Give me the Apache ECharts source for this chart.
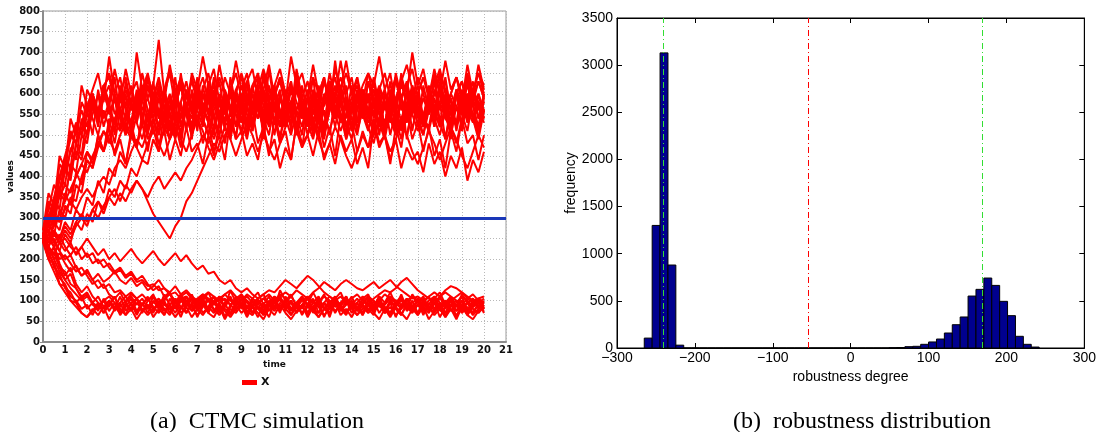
<!DOCTYPE html>
<html>
<head>
<meta charset="utf-8">
<script src="https://cdn.jsdelivr.net/npm/echarts@6/dist/echarts.min.js"></script>
<style>
  html, body { margin: 0; padding: 0; background: #fff; }
  #main { width: 1099px; height: 432px; }
</style>
</head>
<body>
<div id="main"></div>
<script>
// time grid of the simulated runs
const times = [
  0, 0.25, 0.5, 0.75, 1, 1.25, 1.5, 1.75, 2, 2.25,
  2.5, 2.75, 3, 3.25, 3.5, 3.75, 4, 4.25, 4.5, 4.75,
  5, 5.25, 5.5, 5.75, 6, 6.25, 6.5, 6.75, 7, 7.25,
  7.5, 7.75, 8, 8.25, 8.5, 8.75, 9, 9.25, 9.5, 9.75,
  10, 10.25, 10.5, 10.75, 11, 11.25, 11.5, 11.75, 12, 12.25,
  12.5, 12.75, 13, 13.25, 13.5, 13.75, 14, 14.25, 14.5, 14.75,
  15, 15.25, 15.5, 15.75, 16, 16.25, 16.5, 16.75, 17, 17.25,
  17.5, 17.75, 18, 18.25, 18.5, 18.75, 19, 19.25, 19.5, 19.75,
  20
]

// runs that end in the high state
const upperRuns = [
  [250, 330, 300, 400, 380, 470, 440, 540, 500, 600,
   530, 620, 550, 590, 510, 630, 560, 600, 520, 640,
   570, 610, 500, 590, 540, 650, 560, 600, 510, 620,
   550, 640, 530, 590, 490, 610, 560, 630, 520, 600,
   540, 660, 570, 610, 520, 580, 500, 620, 550, 640,
   530, 600, 560, 680, 580, 620, 510, 590, 540, 630,
   570, 610, 500, 600, 550, 650, 560, 590, 520, 620,
   560, 640, 530, 600, 490, 610, 550, 630, 540, 600,
   560],
  [260, 290, 350, 320, 420, 390, 480, 450, 560, 500,
   610, 540, 580, 500, 600, 530, 620, 560, 590, 510,
   630, 540, 600, 520, 580, 490, 610, 550, 640, 570,
   600, 510, 590, 530, 620, 560, 590, 500, 580, 540,
   610, 530, 570, 480, 600, 550, 630, 540, 590, 510,
   580, 520, 620, 560, 600, 490, 570, 530, 610, 550,
   590, 500, 580, 540, 640, 560, 600, 510, 590, 530,
   620, 550, 580, 490, 570, 530, 610, 540, 580, 500,
   590],
  [240, 300, 280, 360, 340, 430, 410, 500, 480, 570,
   540, 620, 580, 660, 600, 640, 570, 700, 610, 650,
   590, 640, 580, 670, 600, 630, 560, 650, 610, 690,
   620, 660, 580, 640, 600, 680, 610, 650, 570, 630,
   610, 670, 590, 640, 580, 690, 620, 650, 590, 670,
   600, 640, 570, 660, 610, 680, 600, 640, 580, 650,
   620, 690, 610, 650, 570, 640, 600, 700, 620, 660,
   590, 650, 600, 680, 610, 640, 580, 670, 600, 650,
   620],
  [250, 240, 290, 270, 330, 310, 380, 360, 440, 420,
   500, 460, 540, 480, 560, 500, 530, 470, 550, 490,
   520, 460, 560, 490, 530, 470, 580, 510, 550, 480,
   530, 460, 500, 440, 540, 490, 600, 520, 560, 480,
   520, 450, 540, 480, 510, 440, 530, 470, 560, 500,
   540, 470, 520, 450, 550, 490, 530, 460, 510, 470,
   540, 480, 500, 430, 520, 470, 560, 490, 530, 460,
   520, 450, 490, 420, 510, 460, 540, 480, 500, 440,
   500],
  [270, 360, 330, 450, 420, 540, 500, 620, 570, 610,
   650, 580, 690, 600, 640, 570, 610, 550, 650, 590,
   620, 730, 600, 650, 570, 620, 560, 640, 590, 550,
   630, 580, 670, 600, 560, 610, 640, 570, 620, 560,
   650, 590, 620, 540, 600, 560, 660, 590, 630, 570,
   610, 570, 650, 590, 680, 600, 640, 560, 610, 580,
   640, 570, 610, 550, 650, 590, 620, 560, 600, 640,
   590, 660, 600, 630, 560, 610, 580, 650, 590, 670,
   610],
  [240, 260, 310, 290, 360, 330, 410, 380, 460, 430,
   500, 460, 520, 450, 490, 430, 510, 470, 530, 460,
   540, 480, 510, 440, 490, 450, 520, 460, 480, 430,
   500, 450, 530, 480, 560, 490, 510, 450, 480, 440,
   520, 460, 490, 420, 470, 440, 530, 480, 500, 450,
   510, 440, 480, 430, 500, 460, 490, 430, 470, 420,
   530, 470, 500, 440, 490, 420, 470, 440, 460, 410,
   480, 430, 460, 400, 450, 420, 470, 390, 440, 410,
   460],
  [250, 230, 270, 250, 290, 270, 320, 300, 350, 330,
   390, 360, 420, 400, 460, 430, 500, 470, 540, 510,
   590, 540, 570, 510, 600, 540, 580, 520, 610, 560,
   540, 600, 520, 580, 510, 590, 550, 630, 560, 600,
   530, 570, 500, 590, 540, 610, 560, 600, 520, 580,
   510, 560, 500, 590, 540, 580, 520, 600, 550, 590,
   610, 550, 580, 500, 560, 520, 610, 550, 590, 530,
   600, 560, 620, 540, 590, 510, 580, 540, 600, 560,
   580],
  [250, 270, 240, 220, 260, 240, 290, 270, 310, 290,
   340, 320, 370, 350, 390, 370, 420, 400, 440, 430,
   490, 460, 520, 490, 540, 510, 560, 520, 580, 600,
   550, 610, 540, 590, 500, 570, 530, 600, 550, 580,
   510, 590, 530, 600, 540, 500, 560, 520, 590, 550,
   620, 570, 610, 540, 620, 560, 580, 510, 560, 600,
   540, 590, 520, 610, 560, 630, 570, 600, 540, 590,
   550, 610, 560, 590, 530, 610, 570, 600, 540, 580,
   560],
  [250, 230, 210, 240, 270, 250, 280, 300, 280, 320,
   340, 310, 350, 370, 340, 380, 360, 390, 370, 340,
   310, 290, 270, 250, 280, 300, 340, 360, 390, 420,
   450, 480, 460, 500, 530, 500, 560, 520, 580, 540,
   590, 540, 600, 560, 520, 580, 610, 560, 530, 580,
   560, 500, 560, 600, 540, 510, 570, 600, 550, 510,
   580, 530, 490, 560, 590, 530, 500, 560, 600, 540,
   510, 570, 600, 540, 520, 480, 540, 590, 550, 510,
   560],
  [260, 340, 320, 430, 410, 510, 480, 580, 550, 600,
   530, 590, 620, 550, 580, 660, 600, 630, 560, 590,
   540, 600, 570, 510, 580, 620, 550, 500, 570, 610,
   650, 580, 540, 610, 570, 520, 590, 630, 660, 590,
   560, 520, 600, 630, 570, 530, 610, 560, 500, 570,
   600, 640, 570, 540, 610, 560, 510, 580, 620, 650,
   590, 550, 510, 580, 520, 590, 630, 570, 530, 500,
   560, 600, 640, 570, 530, 600, 630, 580, 540, 500,
   560],
  [240, 290, 260, 320, 300, 350, 340, 400, 440, 420,
   470, 510, 480, 540, 560, 520, 490, 550, 580, 620,
   560, 520, 590, 540, 600, 630, 570, 540, 600, 640,
   580, 540, 500, 570, 600, 550, 510, 570, 620, 650,
   590, 550, 610, 560, 520, 580, 620, 570, 530, 490,
   550, 590, 630, 570, 530, 590, 540, 500, 570, 600,
   550, 610, 650, 590, 550, 510, 570, 610, 560, 520,
   580, 620, 660, 600, 560, 520, 580, 530, 590, 630,
   590],
  [270, 320, 380, 350, 450, 420, 530, 500, 610, 580,
   550, 620, 640, 580, 560, 510, 580, 530, 490, 550,
   590, 630, 570, 530, 490, 550, 590, 630, 580, 540,
   500, 560, 600, 550, 610, 650, 590, 550, 510, 570,
   520, 580, 620, 660, 600, 560, 520, 580, 530, 590,
   540, 500, 560, 600, 640, 590, 550, 610, 560, 520,
   480, 540, 580, 530, 590, 630, 670, 610, 570, 530,
   590, 540, 500, 560, 600, 640, 590, 550, 610, 650,
   600],
  [250, 300, 350, 400, 450, 500, 480, 530, 570, 540,
   500, 560, 520, 600, 540, 500, 580, 530, 620, 560,
   510, 590, 540, 490, 570, 620, 550, 500, 580, 530,
   610, 550, 500, 570, 520, 600, 540, 490, 560, 620,
   540, 500, 580, 520, 610, 550, 500, 570, 520, 600,
   530, 490, 570, 620, 550, 500, 580, 530, 610, 550,
   500, 580, 520, 600, 540, 490, 570, 620, 550, 500,
   580, 520, 610, 550, 500, 570, 520, 600, 540, 490,
   560],
  [260, 280, 330, 370, 410, 460, 510, 560, 520, 600,
   550, 620, 570, 530, 610, 560, 510, 590, 540, 620,
   570, 520, 600, 550, 500, 580, 630, 570, 520, 600,
   550, 500, 580, 530, 610, 560, 620, 570, 510, 590,
   540, 620, 570, 520, 600, 550, 630, 580, 520, 600,
   560, 510, 590, 540, 620, 570, 520, 600, 550, 630,
   580, 520, 600, 550, 510, 590, 540, 620, 570, 520,
   600, 550, 630, 580, 520, 600, 550, 510, 590, 540,
   600],
  [250, 270, 300, 290, 320, 340, 320, 350, 370, 350,
   380, 400, 380, 420, 440, 420, 460, 490, 470, 510,
   540, 500, 560, 600, 530, 580, 510, 610, 560, 520,
   590, 620, 550, 600, 490, 560, 600, 530, 610, 640,
   570, 530, 600, 520, 590, 630, 550, 500, 590, 540,
   500, 580, 600, 640, 570, 530, 490, 560, 610, 550,
   510, 580, 610, 550, 520, 590, 620, 660, 590, 540,
   520, 590, 530, 490, 560, 600, 630, 560, 530, 600,
   540],
  [260, 290, 320, 350, 380, 360, 400, 430, 410, 450,
   480, 460, 500, 530, 510, 550, 590, 560, 600, 640,
   600, 560, 520, 560, 600, 640, 600, 560, 600, 570,
   530, 490, 530, 570, 610, 570, 530, 570, 600, 560,
   520, 560, 600, 640, 600, 560, 520, 560, 590, 550,
   590, 630, 590, 550, 510, 550, 590, 620, 580, 540,
   580, 620, 580, 540, 500, 540, 580, 560, 600, 640,
   600, 560, 520, 560, 600, 570, 530, 570, 610, 580,
   540],
  [250, 290, 340, 390, 440, 490, 530, 500, 560, 600,
   560, 610, 650, 600, 560, 610, 570, 530, 590, 640,
   600, 550, 610, 660, 610, 560, 520, 580, 620, 570,
   530, 590, 640, 600, 550, 600, 650, 600, 560, 610,
   660, 610, 560, 520, 570, 620, 580, 540, 590, 640,
   600, 550, 510, 560, 610, 650, 600, 560, 600, 560,
   610, 570, 530, 580, 630, 590, 540, 590, 640, 600,
   550, 600, 650, 610, 560, 520, 570, 620, 580, 630,
   590],
  [240, 250, 280, 310, 340, 370, 400, 430, 460, 440,
   480, 510, 490, 460, 500, 530, 500, 470, 440, 480,
   510, 480, 450, 490, 520, 490, 460, 500, 540, 510,
   470, 440, 480, 520, 490, 450, 490, 530, 500, 460,
   500, 470, 440, 480, 520, 550, 510, 470, 500, 530,
   490, 450, 480, 520, 490, 450, 420, 460, 500, 470,
   500, 540, 500, 460, 490, 530, 500, 460, 430, 470,
   510, 480, 440, 480, 520, 490, 450, 420, 460, 500,
   470],
  [250, 260, 230, 250, 280, 260, 290, 310, 290, 320,
   300, 330, 350, 330, 360, 340, 370, 390, 370, 350,
   380, 400, 370, 390, 410, 390, 420, 440, 470, 500,
   480, 520, 560, 530, 520, 560, 600, 570, 530, 570,
   610, 580, 540, 500, 540, 580, 620, 580, 540, 580,
   550, 590, 630, 590, 550, 520, 560, 600, 570, 530,
   570, 610, 580, 540, 580, 620, 590, 550, 510, 550,
   590, 560, 520, 560, 600, 640, 600, 560, 600, 570,
   530],
  [250, 280, 320, 370, 350, 420, 460, 440, 510, 550,
   600, 520, 570, 640, 540, 600, 500, 580, 620, 530,
   590, 500, 610, 560, 640, 520, 580, 490, 600, 550,
   620, 540, 590, 510, 640, 570, 500, 600, 530, 610,
   490, 580, 620, 540, 600, 510, 650, 560, 610, 530,
   590, 500, 630, 550, 600, 520, 570, 640, 540, 590,
   510, 600, 560, 630, 530, 600, 490, 580, 620, 540,
   610, 520, 580, 640, 550, 600, 510, 590, 630, 540,
   580],
  [240, 310, 290, 370, 420, 400, 480, 520, 500, 580,
   520, 600, 560, 510, 620, 570, 530, 610, 550, 500,
   570, 620, 530, 590, 550, 500, 610, 560, 630, 540,
   500, 580, 630, 550, 600, 520, 580, 500, 600, 560,
   640, 570, 530, 600, 550, 630, 520, 580, 540, 610,
   560, 630, 580, 520, 590, 540, 620, 510, 590, 550,
   630, 560, 520, 600, 640, 570, 530, 610, 560, 520,
   590, 540, 620, 560, 510, 600, 560, 640, 570, 520,
   600]
]

// runs that end in the low state
const lowerRuns = [
  [250, 220, 180, 165, 130, 120, 95, 110, 80, 95,
   75, 105, 85, 110, 70, 95, 80, 105, 70, 100,
   115, 85, 100, 70, 95, 80, 110, 75, 90, 105,
   80, 100, 70, 95, 110, 80, 95, 65, 90, 105,
   75, 100, 85, 110, 75, 100, 80, 105, 70, 95,
   110, 80, 100, 70, 95, 110, 80, 95, 70, 100,
   85, 110, 75, 100, 85, 115, 80, 100, 70, 95,
   110, 80, 95, 70, 100, 85, 110, 75, 95, 105,
   85],
  [240, 200, 190, 140, 135, 100, 95, 70, 60, 80,
   65, 85, 55, 80, 95, 65, 80, 55, 75, 90,
   60, 80, 65, 90, 100, 70, 85, 60, 80, 95,
   70, 60, 85, 55, 80, 70, 90, 60, 85, 70,
   55, 80, 65, 90, 70, 55, 75, 90, 65, 85,
   60, 80, 70, 95, 65, 80, 60, 85, 65, 90,
   70, 55, 80, 60, 85, 70, 55, 80, 65, 85,
   55, 75, 90, 60, 80, 55, 85, 65, 55, 75,
   85],
  [260, 240, 250, 220, 200, 210, 180, 160, 170, 150,
   130, 140, 115, 105, 120, 95, 110, 90, 105, 80,
   110, 85, 100, 120, 80, 105, 90, 115, 85, 100,
   120, 90, 110, 85, 125, 95, 115, 80, 105, 120,
   90, 110, 80, 125, 100, 115, 85, 110, 90, 120,
   95, 115, 85, 105, 120, 90, 110, 80, 105, 115,
   85, 110, 95, 120, 90, 105, 80, 115, 95, 110,
   80, 105, 120, 90, 110, 85, 115, 95, 105, 85,
   100],
  [250, 270, 240, 260, 230, 210, 230, 200, 215, 190,
   200, 180, 190, 170, 180, 160, 170, 150, 160, 140,
   125, 135, 110, 120, 95, 115, 90, 105, 80, 100,
   75, 95, 105, 80, 70, 95, 85, 70, 100, 85,
   70, 95, 80, 110, 85, 100, 70, 90, 105, 80,
   70, 95, 80, 105, 75, 90, 100, 75, 90, 110,
   80, 95, 70, 100, 80, 65, 90, 75, 105, 85,
   70, 95, 80, 65, 90, 75, 100, 80, 70, 95,
   80],
  [250, 230, 260, 240, 220, 240, 210, 230, 250, 230,
   210, 225, 200, 215, 195, 210, 225, 205, 190, 205,
   220, 200, 185, 200, 215, 195, 210, 190, 175, 185,
   165, 170, 150, 140, 150, 130, 120, 130, 115, 105,
   115, 90, 105, 80, 100, 75, 95, 110, 85, 75,
   100, 80, 95, 110, 85, 70, 95, 80, 105, 90,
   75, 100, 85, 70, 95, 80, 105, 85, 70, 95,
   80, 105, 75, 95, 110, 85, 100, 70, 90, 105,
   80],
  [250, 200, 170, 140, 120, 100, 85, 70, 60, 75,
   95, 70, 90, 110, 80, 65, 95, 105, 75, 90,
   70, 100, 80, 65, 90, 60, 95, 75, 100, 70,
   85, 110, 75, 95, 65, 90, 105, 70, 85, 60,
   95, 75, 100, 70, 110, 80, 95, 65, 90, 105,
   70, 95, 60, 100, 80, 65, 95, 75, 105, 80,
   65, 100, 85, 70, 95, 110, 75, 90, 65, 100,
   75, 95, 60, 85, 105, 75, 90, 65, 85, 100,
   70],
  [240, 250, 230, 200, 210, 190, 170, 180, 160, 140,
   150, 130, 140, 120, 125, 110, 120, 105, 115, 100,
   110, 95, 105, 115, 100, 110, 120, 105, 95, 110,
   120, 110, 100, 115, 125, 110, 100, 115, 105, 95,
   105, 115, 100, 110, 120, 110, 125, 115, 105, 120,
   130, 145, 135, 125, 140, 150, 140, 130, 125, 135,
   145, 130, 140, 150, 135, 125, 115, 105, 110, 100,
   110, 120, 110, 125, 135, 130, 120, 110, 100, 105,
   110],
  [260, 230, 200, 170, 150, 130, 115, 100, 110, 95,
   85, 100, 110, 95, 85, 100, 115, 105, 90, 80,
   95, 105, 90, 80, 95, 110, 100, 85, 95, 110,
   100, 90, 105, 115, 100, 90, 100, 110, 95, 105,
   115, 125, 120, 135, 150, 140, 130, 145, 160, 150,
   135, 120, 110, 100, 110, 95, 105, 115, 100, 90,
   105, 115, 125, 120, 130, 145, 155, 140, 125, 115,
   105, 95, 110, 120, 110, 100, 90, 105, 115, 100,
   95],
  [250, 210, 230, 190, 160, 180, 140, 120, 135, 110,
   95, 80, 100, 85, 70, 90, 75, 95, 80, 65,
   80, 95, 75, 90, 105, 85, 70, 90, 80, 65,
   85, 70, 90, 75, 60, 80, 95, 75, 65, 85,
   70, 90, 75, 95, 80, 65, 85, 70, 90, 75,
   60, 80, 95, 75, 90, 70, 85, 65, 80, 95,
   75, 90, 70, 85, 65, 80, 95, 75, 90, 70,
   85, 65, 80, 95, 75, 90, 70, 85, 65, 80,
   90],
  [250, 230, 200, 215, 190, 170, 185, 160, 175, 150,
   165, 145, 155, 170, 150, 140, 155, 135, 145, 125,
   135, 150, 130, 120, 135, 115, 125, 110, 100, 115,
   105, 95, 110, 100, 90, 105, 115, 100, 90, 100,
   85, 95, 110, 100, 90, 80, 95, 105, 90, 80,
   95, 110, 100, 85, 95, 105, 90, 80, 95, 110,
   100, 85, 95, 110, 100, 90, 80, 95, 105, 90,
   80, 95, 105, 95, 85, 95, 110, 100, 85, 95,
   105],
  [250, 200, 230, 180, 150, 165, 130, 110, 120, 95,
   110, 85, 100, 75, 95, 110, 90, 70, 90, 105,
   85, 70, 95, 80, 60, 80, 100, 85, 65, 85,
   100, 80, 65, 85, 105, 90, 70, 85, 100, 80,
   65, 85, 100, 80, 95, 110, 90, 70, 85, 100,
   85, 65, 80, 100, 85, 70, 90, 105, 85, 70,
   85, 100, 80, 65, 85, 100, 85, 70, 90, 105,
   85, 70, 90, 100, 80, 65, 85, 95, 80, 70,
   85],
  [260, 250, 270, 240, 250, 230, 215, 230, 205, 215,
   190, 200, 180, 165, 175, 155, 165, 145, 150, 135,
   140, 125, 130, 115, 120, 105, 110, 95, 105, 115,
   100, 110, 95, 105, 90, 100, 110, 95, 85, 95,
   105, 90, 100, 115, 105, 95, 85, 100, 110, 95,
   85, 95, 110, 100, 90, 100, 85, 95, 110, 100,
   90, 100, 115, 105, 95, 85, 100, 110, 95, 85,
   100, 110, 95, 85, 100, 110, 120, 105, 95, 105,
   95],
  [250, 215, 190, 155, 140, 110, 100, 80, 90, 65,
   95, 70, 100, 80, 110, 75, 95, 65, 90, 110,
   75, 95, 65, 105, 80, 110, 70, 95, 60, 90,
   105, 75, 95, 60, 85, 110, 80, 100, 70, 95,
   65, 90, 110, 75, 100, 65, 95, 80, 110, 70,
   95, 60, 90, 110, 75, 100, 70, 95, 65, 105,
   80, 110, 70, 95, 60, 90, 105, 75, 100, 65,
   95, 75, 110, 80, 100, 60, 90, 70, 105, 80,
   95],
  [260, 230, 215, 180, 170, 140, 130, 105, 115, 90,
   80, 100, 75, 95, 65, 85, 105, 75, 95, 70,
   100, 80, 115, 90, 70, 100, 85, 105, 75, 90,
   70, 100, 85, 60, 90, 75, 105, 85, 70, 100,
   85, 60, 95, 110, 80, 95, 70, 90, 60, 85,
   105, 80, 70, 100, 85, 110, 80, 65, 90, 75,
   100, 70, 90, 105, 80, 65, 95, 80, 105, 75,
   90, 110, 80, 60, 90, 100, 75, 95, 70, 90,
   75]
]

const threshold = 300

// robustness histogram: 50 equal bins between the min and max degree
const binLow = -265
const binHigh = 242
const freq = [
  105, 1300, 3130, 880, 30, 0, 0, 0, 0, 0,
  0, 0, 0, 0, 0, 0, 0, 0, 0, 0,
  0, 0, 0, 0, 0, 0, 0, 0, 0, 0,
  0, 3, 5, 14, 18, 39, 64, 95, 159, 247,
  329, 551, 622, 742, 664, 495, 343, 124, 39, 10
]
// vertical reference lines
const greenLines = [-240, 169]
const redLines = [-54]

const binW = (binHigh - binLow) / freq.length
const histData = freq.map((f, k) => [binLow + k * binW, binLow + (k + 1) * binW, f])

const myChart = echarts.init(document.getElementById('main'))

const leftLabel = { fontFamily: 'DejaVu Sans', fontWeight: 'bold', fontSize: 10, color: '#111' }
const rightLabel = { fontFamily: 'Liberation Sans', fontSize: 14, color: '#000' }
const minus = v => String(v).replace('-', '\u2212')
const dashDot = [6, 3, 1, 3]

const series = []
upperRuns.concat(lowerRuns).forEach(run => {
  series.push({
    name: 'X',
    type: 'line',
    xAxisIndex: 0,
    yAxisIndex: 0,
    showSymbol: false,
    lineStyle: { color: '#ff0000', width: 2 },
    itemStyle: { color: '#ff0000' },
    data: run.map((v, i) => [times[i], v])
  })
})
// blue threshold
series.push({
  type: 'line',
  xAxisIndex: 0,
  yAxisIndex: 0,
  data: [],
  z: 10,
  markLine: {
    silent: true,
    symbol: 'none',
    label: { show: false },
    lineStyle: { color: '#1a37b8', width: 3, type: 'solid' },
    data: [{ yAxis: threshold }]
  }
})
// histogram
series.push({
  type: 'custom',
  xAxisIndex: 1,
  yAxisIndex: 1,
  data: histData,
  encode: { x: [0, 1], y: 2 },
  renderItem: (params, api) => {
    const p0 = api.coord([api.value(0), api.value(2)])
    const p1 = api.coord([api.value(1), 0])
    return {
      type: 'rect',
      shape: { x: p0[0], y: p0[1], width: p1[0] - p0[0], height: p1[1] - p0[1] },
      style: { fill: '#00008f', stroke: '#000', lineWidth: 1 }
    }
  }
})
series.push({
  type: 'line',
  xAxisIndex: 1,
  yAxisIndex: 1,
  data: [],
  z: 10,
  markLine: {
    silent: true,
    symbol: 'none',
    label: { show: false },
    data: greenLines.map(v => ({ xAxis: v, lineStyle: { color: '#33dd33', width: 1, type: dashDot } }))
      .concat(redLines.map(v => ({ xAxis: v, lineStyle: { color: '#ff0000', width: 1, type: dashDot } })))
  }
})

const option = {
  animation: false,
  backgroundColor: '#fff',
  legend: {
    data: ['X'],
    left: 237,
    top: 372,
    icon: 'rect',
    itemWidth: 15,
    itemHeight: 5,
    itemGap: 4,
    textStyle: { fontFamily: 'DejaVu Sans', fontWeight: 'bold', fontSize: 11, color: '#111', padding: [0, 0, 0, -1] }
  },
  grid: [
    { left: 43, top: 11, width: 463, height: 331, show: true, borderColor: '#9a9a9a', borderWidth: 1 },
    { left: 617, top: 18, width: 469, height: 330, show: true, borderColor: '#000', borderWidth: 1 }
  ],
  xAxis: [
    {
      type: 'value', gridIndex: 0, min: 0, max: 21, interval: 1,
      name: 'time', nameLocation: 'middle', nameGap: 15,
      nameTextStyle: { fontFamily: 'DejaVu Sans', fontWeight: 'bold', fontSize: 9, color: '#111' },
      axisLine: { show: true, lineStyle: { color: '#8c8c8c', width: 2 } },
      axisTick: { show: false },
      axisLabel: Object.assign({ margin: 3 }, leftLabel),
      splitLine: { show: true, lineStyle: { color: '#b8b8b8', type: [1, 2] } }
    },
    {
      type: 'value', gridIndex: 1, min: -300, max: 300, interval: 100,
      name: 'robustness degree', nameLocation: 'middle', nameGap: 18,
      nameTextStyle: rightLabel,
      axisLine: { show: true, onZero: false, lineStyle: { color: '#000', width: 1 } },
      axisTick: { show: true, inside: true, length: 5, lineStyle: { color: '#000' } },
      axisLabel: Object.assign({ margin: 3, formatter: minus }, rightLabel),
      splitLine: { show: false }
    },
    {
      type: 'value', gridIndex: 1, min: -300, max: 300, interval: 100, position: 'top',
      axisLine: { show: true, onZero: false, lineStyle: { color: '#000', width: 1 } },
      axisTick: { show: true, inside: true, length: 5, lineStyle: { color: '#000' } },
      axisLabel: { show: false },
      splitLine: { show: false }
    }
  ],
  yAxis: [
    {
      type: 'value', gridIndex: 0, min: 0, max: 800, interval: 50,
      name: 'values', nameLocation: 'middle', nameGap: 25,
      nameTextStyle: { fontFamily: 'DejaVu Sans', fontWeight: 'bold', fontSize: 9, color: '#111' },
      axisLine: { show: true, lineStyle: { color: '#8c8c8c', width: 2 } },
      axisTick: { show: true, length: 3, lineStyle: { color: '#8c8c8c' } },
      axisLabel: Object.assign({ margin: 3 }, leftLabel),
      splitLine: { show: true, lineStyle: { color: '#b8b8b8', type: [1, 2] } }
    },
    {
      type: 'value', gridIndex: 1, min: 0, max: 3500, interval: 500,
      name: 'frequency', nameLocation: 'middle', nameGap: 37,
      nameTextStyle: rightLabel,
      axisLine: { show: true, onZero: false, lineStyle: { color: '#000', width: 1 } },
      axisTick: { show: true, inside: true, length: 5, lineStyle: { color: '#000' } },
      axisLabel: Object.assign({ margin: 4, formatter: v => String(v) }, rightLabel),
      splitLine: { show: false }
    },
    {
      type: 'value', gridIndex: 1, min: 0, max: 3500, interval: 500, position: 'right',
      axisLine: { show: true, onZero: false, lineStyle: { color: '#000', width: 1 } },
      axisTick: { show: true, inside: true, length: 5, lineStyle: { color: '#000' } },
      axisLabel: { show: false },
      splitLine: { show: false }
    }
  ],
  graphic: [
    {
      type: 'text', left: 150, top: 410,
      style: { text: '(a)  CTMC simulation', font: '24px "Liberation Serif"', fill: '#000' }
    },
    {
      type: 'text', left: 733, top: 410,
      style: { text: '(b)  robustness distribution', font: '24px "Liberation Serif"', fill: '#000' }
    }
  ],
  series: series
}

myChart.setOption(option)
window.addEventListener('resize', function() {
  myChart.resize()
})
</script>
</body>
</html>
